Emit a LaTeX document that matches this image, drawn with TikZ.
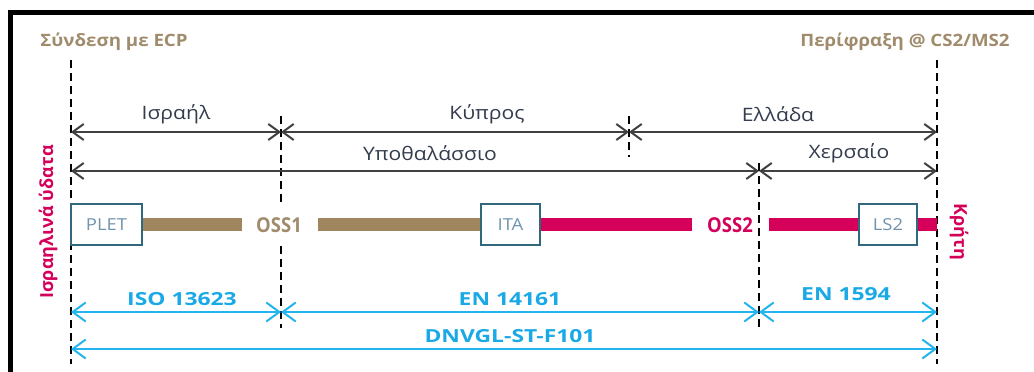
\documentclass[tikz,border=0pt]{standalone}
\usepackage{fontspec}
\setmainfont{Open Sans}
\newfontfamily\graystretch[FakeStretch=1.14]{Open Sans}
\newfontfamily\bluestretch[FakeStretch=1.27]{Open Sans}
\newfontfamily\hdrstretch[FakeStretch=1.1]{Open Sans}
\newfontfamily\boxstretch[FakeStretch=1.12]{Open Sans}
\newfontfamily\ossnarrow[FakeStretch=0.9]{Open Sans}
\usetikzlibrary{arrows.meta}
\definecolor{darktxt}{HTML}{333D4D}
\definecolor{arrgray}{HTML}{404040}
\definecolor{brownc}{HTML}{A0865E}
\definecolor{browntxt}{HTML}{A08C6C}
\definecolor{magc}{HTML}{D4005A}
\definecolor{bluec}{HTML}{22B5EE}
\definecolor{bluetxt}{HTML}{19A9E6}
\definecolor{boxedge}{HTML}{31687D}
\definecolor{boxtxt}{HTML}{6F93AE}
\tikzset{
  vdash/.style={draw=black, line width=2pt, dash pattern=on 8pt off 5pt},
  grayarr/.style={draw=arrgray, line width=2pt, {Straight Barb[length=11pt,width=16pt,line width=2pt]}-{Straight Barb[length=11pt,width=16pt,line width=2pt]}},
  bluearr/.style={draw=bluec, line width=2pt, {Straight Barb[length=13pt,width=19pt,line width=2pt]}-{Straight Barb[length=13pt,width=19pt,line width=2pt]}},
  graylbl/.style={text=darktxt, font=\graystretch\fontsize{18.5}{20}\selectfont, inner sep=0pt},
  bluelbl/.style={text=bluetxt, font=\bluestretch\fontsize{18}{20}\selectfont\bfseries, inner sep=0pt},
  hdr/.style={text=browntxt, font=\hdrstretch\fontsize{17}{20}\selectfont\bfseries, inner sep=0pt},
  pbox/.style={draw=boxedge, line width=2pt, fill=white, text=boxtxt, font=\boxstretch\fontsize{16.5}{18}\selectfont, minimum height=41pt, inner sep=0pt},
  bbar/.style={draw=brownc, line width=13pt},
  mbar/.style={draw=magc, line width=13pt},
  osslbl/.style={font=\ossnarrow\fontsize{20.5}{22}\selectfont\bfseries, fill=white, inner xsep=3pt, minimum height=38pt},
  sidelbl/.style={text=magc, font=\fontsize{18}{20}\selectfont\bfseries, inner sep=0pt},
}
\begin{document}
\begin{tikzpicture}[x=1pt,y=-1pt]
\useasboundingbox (0,0) rectangle (1034,372);
\fill[white] (0,0) rectangle (1034,372);
% frame
\draw[line width=4.5pt] (10.5,372) -- (10.5,12.5) -- (1034,12.5);
% dashed verticals
\draw[vdash] (71,60) -- (71,364);
\draw[vdash] (937,60) -- (937,364);
\draw[vdash] (281,116) -- (281,328);
\draw[vdash] (629,116) -- (629,157);
\draw[vdash] (759,163) -- (759,328);
% coordinates
\coordinate (a1) at (71,132); \coordinate (b1) at (281,132);
\coordinate (c1) at (629,132); \coordinate (d1) at (937,132);
\coordinate (a2) at (71,171); \coordinate (b2) at (759,171); \coordinate (c2) at (937,171);
\coordinate (a3) at (71,312); \coordinate (b3) at (281,312);
\coordinate (c3) at (759,312); \coordinate (d3) at (937,312);
\coordinate (a4) at (71,349); \coordinate (b4) at (937,349);
% gray arrows
\draw[grayarr] (a1) -- (b1);
\draw[grayarr] (b1) -- (c1);
\draw[grayarr] (c1) -- (d1);
\draw[grayarr] (a2) -- (b2);
\draw[grayarr] (b2) -- (c2);
% blue arrows
\draw[bluearr] (a3) -- (b3);
\draw[bluearr] (b3) -- (c3);
\draw[bluearr] (c3) -- (d3);
\draw[bluearr] (a4) -- (b4);
% labels
\node[graylbl] (isr) at (176,114) {Ισραήλ};
\node[graylbl] (kyp) at (487,114) {Κύπρος};
\node[graylbl] (ell) at (778,114) {Ελλάδα};
\node[graylbl] (ypo) at (430,153) {Υποθαλάσσιο};
\node[graylbl] (xer) at (849,153) {Χερσαίο};
\node[bluelbl] (iso) at (182,299) {ISO 13623};
\node[bluelbl] (en1) at (510,299) {EN 14161};
\node[bluelbl] (en2) at (846,294) {EN 1594};
\node[bluelbl] (dnv) at (510,336) {DNVGL-ST-F101};
\node[hdr] (h1) at (114,42) {Σύνδεση με ECP};
\node[hdr] (h2) at (905,42) {Περίφραξη @ CS2/MS2};
\node[sidelbl, rotate=90] (isw) at (48,222) {Ισραηλινά ύδατα};
\node[sidelbl, rotate=-90] (krt) at (959,232) {Κρήτη};
% pipeline
\node[pbox, minimum width=71pt] (plet) at (106.5,224.5) {PLET};
\node[pbox, minimum width=59pt] (ita) at (510.5,224.5) {ITA};
\node[pbox, minimum width=58pt] (ls2) at (888,224.5) {LS2};
\node[osslbl, text=browntxt] (oss1) at (279,225) {OSS1};
\node[osslbl, text=magc] (oss2) at (730,225) {OSS2};
\coordinate (kend) at (937,224.5);
\draw[bbar] (plet.east) -- (242,224.5);
\draw[bbar] (318,224.5) -- (ita.west);
\draw[mbar] (ita.east) -- (692,224.5);
\draw[mbar] (769,224.5) -- (ls2.west);
\draw[mbar] (ls2.east) -- (kend);
\end{tikzpicture}
\end{document}
